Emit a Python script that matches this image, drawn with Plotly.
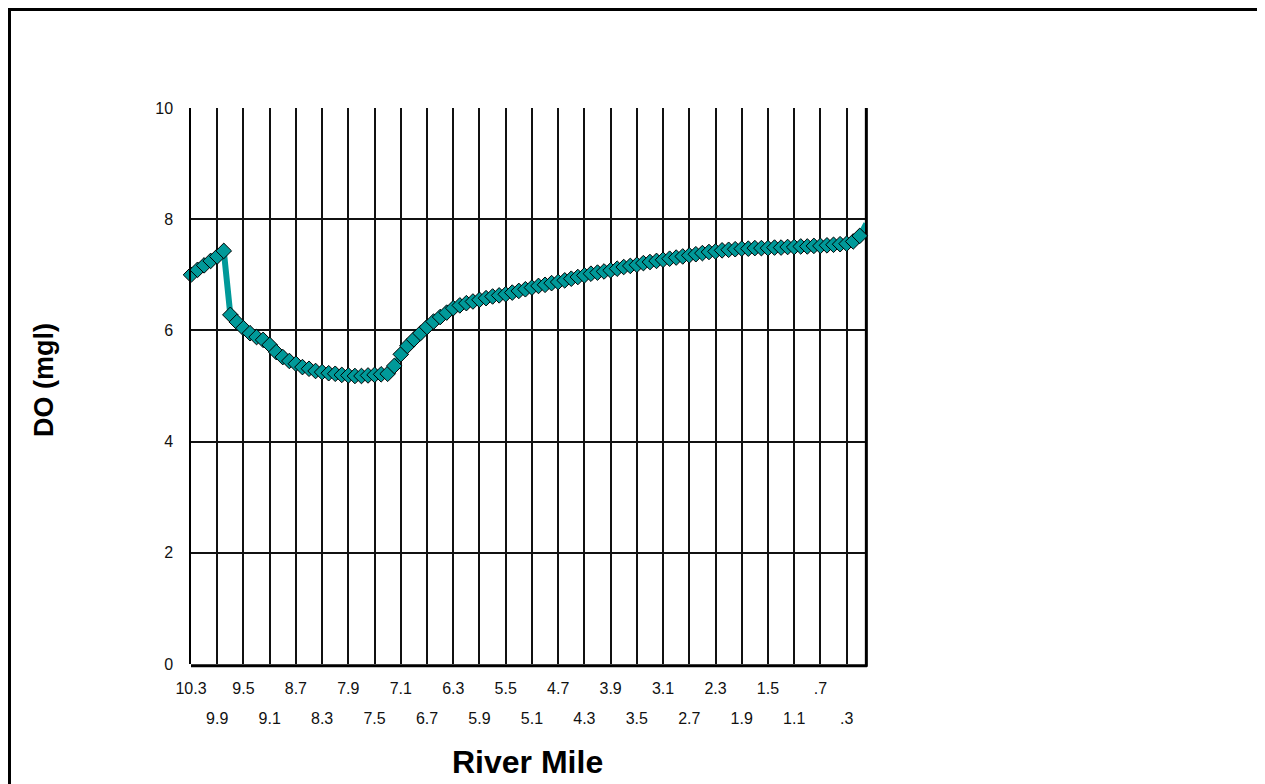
import plotly.graph_objects as go

river_mile = [10.3, 10.2, 10.1, 10.0, 9.9, 9.8, 9.7, 9.6, 9.5, 9.4, 9.3, 9.2, 9.1, 9.0,
              8.9, 8.8, 8.7, 8.6, 8.5, 8.4, 8.3, 8.2, 8.1, 8.0, 7.9, 7.8, 7.7, 7.6,
              7.5, 7.4, 7.3, 7.2, 7.1, 7.0, 6.9, 6.8, 6.7, 6.6, 6.5, 6.4, 6.3, 6.2,
              6.1, 6.0, 5.9, 5.8, 5.7, 5.6, 5.5, 5.4, 5.3, 5.2, 5.1, 5.0, 4.9, 4.8,
              4.7, 4.6, 4.5, 4.4, 4.3, 4.2, 4.1, 4.0, 3.9, 3.8, 3.7, 3.6, 3.5, 3.4,
              3.3, 3.2, 3.1, 3.0, 2.9, 2.8, 2.7, 2.6, 2.5, 2.4, 2.3, 2.2, 2.1, 2.0,
              1.9, 1.8, 1.7, 1.6, 1.5, 1.4, 1.3, 1.2, 1.1, 1.0, 0.9, 0.8, 0.7, 0.6,
              0.5, 0.4, 0.3, 0.2, 0.1, 0.0]

do_mgl = [7.00, 7.09, 7.17, 7.25, 7.33, 7.43, 6.28, 6.15, 6.04, 5.95, 5.88, 5.83, 5.74, 5.61,
          5.52, 5.45, 5.40, 5.34, 5.31, 5.27, 5.25, 5.23, 5.22, 5.20, 5.19, 5.18, 5.18, 5.19,
          5.20, 5.21, 5.22, 5.36, 5.57, 5.72, 5.84, 5.95, 6.06, 6.16, 6.24, 6.32, 6.40, 6.45,
          6.49, 6.52, 6.55, 6.58, 6.61, 6.63, 6.65, 6.68, 6.71, 6.74, 6.77, 6.80, 6.82, 6.85,
          6.87, 6.90, 6.93, 6.96, 6.99, 7.02, 7.04, 7.06, 7.08, 7.11, 7.14, 7.16, 7.18, 7.21,
          7.23, 7.25, 7.27, 7.29, 7.31, 7.33, 7.35, 7.37, 7.39, 7.41, 7.42, 7.44, 7.45, 7.46,
          7.47, 7.47, 7.48, 7.48, 7.48, 7.49, 7.49, 7.50, 7.50, 7.51, 7.51, 7.52, 7.52, 7.53,
          7.54, 7.55, 7.56, 7.60, 7.70, 7.92]

# x labels alternate between two rows
x_tick_vals_row1 = [10.3, 9.5, 8.7, 7.9, 7.1, 6.3, 5.5, 4.7, 3.9, 3.1, 2.3, 1.5, 0.7]
x_tick_labels_row1 = ["10.3", "9.5", "8.7", "7.9", "7.1", "6.3", "5.5", "4.7", "3.9",
                      "3.1", "2.3", "1.5", ".7"]
x_tick_vals_row2 = [9.9, 9.1, 8.3, 7.5, 6.7, 5.9, 5.1, 4.3, 3.5, 2.7, 1.9, 1.1, 0.3]
x_tick_labels_row2 = ["9.9", "9.1", "8.3", "7.5", "6.7", "5.9", "5.1", "4.3", "3.5",
                      "2.7", "1.9", "1.1", ".3"]
y_tick_vals = [0, 2, 4, 6, 8, 10]
y_tick_labels = ["0", "2", "4", "6", "8", "10"]

TEAL = "#009999"
FONT = "Liberation Sans, Arial, sans-serif"
GRID = "#111111"

# page has an 8px body margin: figure placed at (8, 8)
W, H = 1257, 776
L, T = 183, 100            # plot area left/top in figure px
PW, PH = 674, 556          # plot area size
R, B = W - L - PW, H - T - PH


def px(x):   # figure px -> paper x
    return (x - L) / PW


def py(y):   # figure px -> paper y
    return (T + PH - y) / PH


fig = go.Figure()
fig.add_trace(go.Scatter(
    x=river_mile, y=do_mgl, mode="lines+markers",
    line=dict(color=TEAL, width=6),
    marker=dict(symbol="diamond", size=12, color=TEAL,
                line=dict(color="black", width=1)),
    cliponaxis=False, showlegend=False,
))
# invisible helper trace for the second label row
fig.add_trace(go.Scatter(x=[10.3], y=[0], xaxis="x2", mode="markers",
                         marker=dict(opacity=0), hoverinfo="skip", showlegend=False))

tickfont = dict(family=FONT, size=16, color="#111111")
fig.update_layout(
    width=W, height=H,
    margin=dict(l=L, r=R, t=T, b=B),
    paper_bgcolor="white", plot_bgcolor="white",
    font=dict(family=FONT, size=16, color="#111111"),
    xaxis=dict(
        range=[10.3, 0.02], tickmode="array", tickvals=x_tick_vals_row1,
        ticktext=x_tick_labels_row1,
        showgrid=True, gridcolor=GRID, gridwidth=1.5, zeroline=False,
        showline=False, ticks="", ticklabelstandoff=13, tickfont=tickfont,
    ),
    xaxis2=dict(
        range=[10.3, 0.02], overlaying="x", side="bottom", anchor="y", matches="x",
        tickmode="array", tickvals=x_tick_vals_row2, ticktext=x_tick_labels_row2,
        showgrid=True, gridcolor=GRID, gridwidth=1.5, zeroline=False,
        showline=False, ticks="", ticklabelstandoff=43, tickfont=tickfont,
    ),
    yaxis=dict(
        range=[0, 10], tickmode="array", tickvals=y_tick_vals, ticktext=y_tick_labels,
        showgrid=True, gridcolor=GRID, gridwidth=1.5, zeroline=False,
        showline=True, linecolor="black", linewidth=1.5, ticks="", ticklabelstandoff=13,
        tickfont=tickfont,
    ),
    shapes=[
        # heavier bottom and right plot-area edges (under the data)
        dict(type="line", xref="paper", yref="paper", x0=0, x1=1.003, y0=-0.003, y1=-0.003,
             line=dict(color="black", width=3), layer="below"),
        dict(type="line", xref="paper", yref="paper", x0=1.002, x1=1.002, y0=-0.005, y1=1,
             line=dict(color="black", width=3), layer="below"),
        # outer chart frame
        dict(type="rect", xref="paper", yref="paper",
             x0=px(1.5), x1=px(1255.5), y0=py(H + 20), y1=py(1.5),
             line=dict(color="black", width=3), fillcolor="rgba(0,0,0,0)", layer="above"),
    ],
    annotations=[
        dict(text="<b>River Mile</b>", xref="paper", yref="paper",
             x=px(527 - 8), y=py(762 - 8), showarrow=False,
             font=dict(family=FONT, size=32, color="black"), xanchor="center", yanchor="middle"),
        dict(text="<b>DO (mgl)</b>", xref="paper", yref="paper",
             x=px(44 - 8), y=py(380 - 8), showarrow=False, textangle=-90,
             font=dict(family=FONT, size=27, color="black"), xanchor="center", yanchor="middle"),
    ],
)

fig.write_html("out.html")
